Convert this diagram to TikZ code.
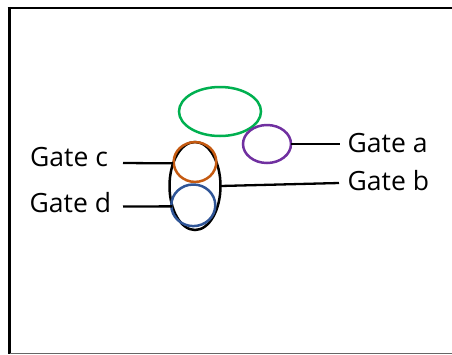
\documentclass[tikz,border=0pt]{standalone}
\usepackage{fontspec}
\setmainfont{Open Sans}
\usetikzlibrary{shapes.geometric}
\definecolor{mygreen}{HTML}{00B050}
\definecolor{mypurple}{HTML}{7030A0}
\definecolor{myorange}{HTML}{C55A11}
\definecolor{myblue}{HTML}{2F5597}
\begin{document}
\begin{tikzpicture}[x=1pt,y=-1pt,
  ring/.style={ellipse,draw,line width=2.5pt,inner sep=0pt,outer sep=0pt},
  lbl/.style={inner sep=0pt,anchor=base west,font=\fontsize{26.5}{30}\selectfont},
  wire/.style={line width=2.3pt}]
\useasboundingbox (0,0) rectangle (452,354);
% frame
\draw[line width=2.5pt] (7.5,8) -- (452,8);
\draw[line width=3pt] (9,6.75) -- (9,354);
\draw[line width=1pt,black!60] (10,353.5) -- (452,353.5);
% shapes
\node[ring,draw=mygreen,minimum width=82pt,minimum height=49pt] (grn) at (220,111.5) {};
\node[ring,draw=mypurple,minimum width=48pt,minimum height=38pt] (pur) at (267,144) {};
\node[ring,draw=black,minimum width=51pt,minimum height=88pt] (blk) at (195,186) {};
\node[ring,draw=myorange,minimum width=42.6pt,minimum height=39.8pt] (org) at (195,162) {};
\node[ring,draw=myblue,minimum width=44pt,minimum height=41.6pt] (blu) at (193.3,205.3) {};
% labels
\node[lbl] (ta) at (347.5,152) {Gate a};
\node[lbl] (tb) at (347.5,190) {Gate b};
\node[lbl] (tc) at (30,166.5) {Gate c};
\node[lbl] (td) at (29.5,212) {Gate d};
% line ends
\coordinate (ae) at (340,144);
\coordinate (be) at (339,183);
\coordinate (ce) at (123,163);
\coordinate (de) at (123,206.5);
% connectors
\draw[wire] (pur.east) -- (ae);
\draw[wire] (blk.east) -- (be);
\draw[wire] (ce) -- (blk.134.6);
\draw[wire] (de) -- (blk.222.6);
\end{tikzpicture}
\end{document}
